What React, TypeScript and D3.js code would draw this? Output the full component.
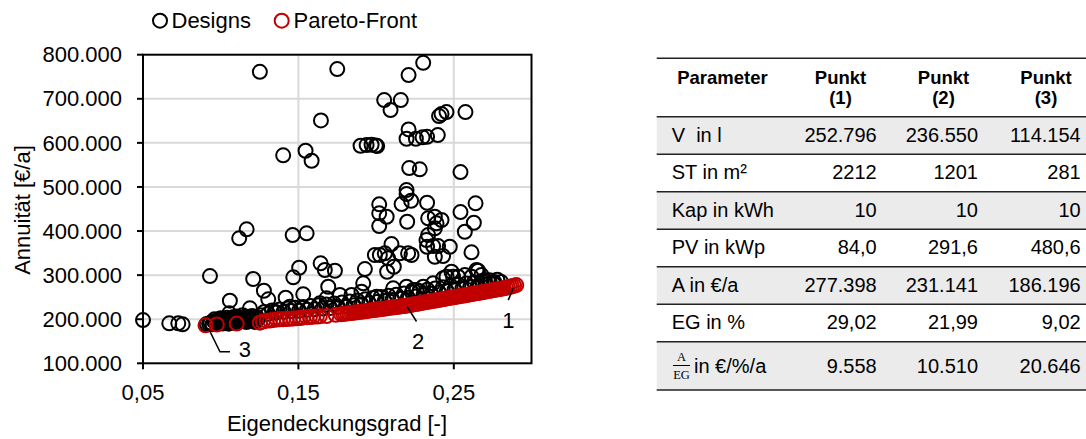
import React from "react";
import * as d3 from "d3";

// ---------- Data ----------
const xTicks = [0.05, 0.15, 0.25];
const yTicks = [100000, 200000, 300000, 400000, 500000, 600000, 700000, 800000];

// Designs (black circles): [Eigendeckungsgrad, Annuität]
const designsUpper: [number, number][] = [
  [0.1252, 761200], [0.1750, 767400], [0.2209, 753800], [0.2303, 781600],
  [0.2052, 697100], [0.2159, 697100], [0.2093, 674400], [0.1645, 651000],
  [0.2405, 660800], [0.2421, 665300], [0.2453, 669900], [0.2575, 669900],
  [0.2209, 630600], [0.2196, 609300], [0.2256, 609300], [0.2299, 612500],
  [0.2328, 613800], [0.2397, 617700], [0.1900, 593400], [0.1939, 595000],
  [0.1971, 595700], [0.1998, 594300], [0.2007, 592800], [0.1402, 571700],
  [0.1546, 582100], [0.1585, 559400], [0.2213, 542900], [0.2281, 539900],
  [0.2543, 533800], [0.2196, 493000], [0.2196, 483900], [0.2225, 468700],
  [0.2164, 461200], [0.2020, 460500], [0.2328, 464200], [0.2640, 462800],
  [0.2543, 443100], [0.2020, 440100], [0.2068, 432400], [0.2629, 418800],
  [0.2571, 398400], [0.2020, 411300], [0.2200, 421100], [0.2335, 428800],
  [0.2378, 432400], [0.2421, 425000], [0.2389, 417500], [0.2378, 406100],
  [0.2335, 390900], [0.2367, 366000], [0.2399, 366000], [0.2474, 364400],
  [0.2378, 341700], [0.2431, 343300], [0.2614, 351700], [0.2228, 345600],
  [0.1119, 383500], [0.1167, 403900], [0.1463, 390900], [0.1553, 394800],
];

const designsMiddle: [number, number][] = [
  [0.1505, 316800], [0.1643, 326800], [0.1670, 311600], [0.1735, 310000],
  [0.1928, 313800], [0.1992, 345600], [0.2024, 345600], [0.2056, 349400],
  [0.2099, 370500], [0.2077, 338100], [0.2114, 319000], [0.2071, 307700],
  [0.2153, 349400], [0.2206, 349400], [0.2324, 379600], [0.2328, 364400],
  [0.1692, 273700], [0.1531, 256500], [0.1917, 281400], [0.1906, 262400],
  [0.1767, 254900], [0.1842, 254900], [0.1638, 236100], [0.1681, 247400],
  [0.2003, 251000], [0.2110, 270100], [0.2196, 273700], [0.2260, 266200],
  [0.0500, 198000], [0.0669, 190700], [0.0727, 190700], [0.0755, 188400],
  [0.0931, 297900], [0.1209, 291200], [0.1278, 264600], [0.1306, 245100],
  [0.1059, 242000], [0.1188, 224700], [0.1055, 213400], [0.1418, 248800],
  [0.1467, 295000], [0.1445, 228300], [0.1349, 217000],
  [0.2453, 296400], [0.2485, 307700], [0.2528, 296400], [0.2571, 300200],
  [0.2614, 296400], [0.2656, 310000], [0.2678, 300200], [0.2367, 281400],
  [0.2303, 273700], [0.2238, 266200], [0.2646, 311600], [0.2495, 296400],
  [0.2731, 281400], [0.2431, 292700], [0.2700, 289000], [0.2760, 284500],
];

// Dense cluster of designs at the lower left (behind point 3)
const designsCluster: [number, number][] = [
  [0.0910, 189100], [0.0974, 189100], [0.0935, 192000], [0.0955, 195500],
  [0.0985, 191200], [0.1005, 196300], [0.1025, 193100], [0.1045, 199400],
  [0.1062, 192400], [0.1080, 197600], [0.1100, 194200], [0.1115, 201300],
  [0.1132, 195100], [0.1150, 199700], [0.1166, 193600], [0.1180, 204200],
  [0.1195, 197300], [0.1212, 201500], [0.1226, 196200], [0.1105, 206300],
  [0.1141, 209100], [0.1040, 203400], [0.0990, 199200], [0.1240, 200800],
  [0.0925, 190500], [0.0948, 188700], [0.0968, 193800], [0.1012, 190200],
  [0.1035, 196100], [0.1052, 189900], [0.1072, 201800], [0.1090, 191800],
  [0.1122, 198300], [0.1158, 205600], [0.1172, 197900], [0.1202, 207400],
  [0.1218, 193900], [0.1232, 205200], [0.1085, 205000], [0.1000, 202300],
  [0.0960, 199800],
];

// Designs lying just above the Pareto-Front
const designsBand: [number, number][] = [
  [0.1255, 209000], [0.1280, 216500], [0.1305, 212400], [0.1330, 219800],
  [0.1355, 215100], [0.1380, 222300], [0.1405, 216900], [0.1430, 224100],
  [0.1455, 218600], [0.1480, 226200], [0.1505, 219400], [0.1530, 227600],
  [0.1555, 221300], [0.1580, 229700], [0.1605, 222600], [0.1630, 231900],
  [0.1655, 224200], [0.1680, 233100], [0.1705, 225700], [0.1730, 235400],
  [0.1755, 227900], [0.1780, 237800], [0.1805, 229600], [0.1830, 240100],
  [0.1855, 231800], [0.1880, 242700], [0.1905, 234100], [0.1930, 245200],
  [0.1955, 236300], [0.1980, 247900], [0.2005, 238900], [0.2030, 250400],
  [0.2055, 241100], [0.2080, 253200], [0.2105, 243800], [0.2130, 255600],
  [0.2155, 246300], [0.2180, 258100], [0.2205, 248700], [0.2230, 260900],
  [0.2255, 251800], [0.2280, 263700], [0.2305, 254900], [0.2330, 266800],
  [0.2355, 257600], [0.2380, 269900], [0.2405, 260700], [0.2430, 272400],
  [0.2455, 263800], [0.2480, 275600], [0.2505, 266900], [0.2530, 278300],
  [0.2555, 269800], [0.2580, 281200], [0.2605, 272600], [0.2630, 283900],
  [0.2655, 275700], [0.2680, 286400], [0.2705, 278300], [0.2730, 288200],
  [0.2755, 281100], [0.2780, 289600], [0.2805, 284300],
];

// Pareto-Front (red circles)
const paretoFront: [number, number][] = [
  [0.0902, 186196], [0.0975, 188000], [0.1103, 190000], [0.1252, 192100],
  [0.1272, 194800], [0.1296, 196600], [0.1317, 197100], [0.1338, 198200],
  [0.1362, 199300], [0.1381, 199800], [0.1400, 199900], [0.1424, 200500],
  [0.1445, 201100], [0.1467, 201600], [0.1490, 202000], [0.1510, 202700],
  [0.1529, 203900], [0.1553, 204300], [0.1574, 205000], [0.1593, 205400],
  [0.1619, 206100], [0.1638, 206600], [0.1681, 207300], [0.1740, 210100],
  [0.1775, 211500], [0.1788, 212000], [0.1801, 212600], [0.1814, 213100],
  [0.1827, 213700], [0.1840, 214200], [0.1853, 214800], [0.1866, 215300],
  [0.1879, 215900], [0.1892, 216500], [0.1905, 217100], [0.1918, 217700],
  [0.1931, 218300], [0.1944, 218900], [0.1957, 219500], [0.1970, 220100],
  [0.1983, 220700], [0.1996, 221300], [0.2009, 221900], [0.2022, 222600],
  [0.2035, 223200], [0.2048, 223900], [0.2061, 224500], [0.2074, 225100],
  [0.2087, 225800], [0.2100, 226400], [0.2113, 227000], [0.2126, 227700],
  [0.2139, 228300], [0.2152, 228900], [0.2165, 229600], [0.2178, 230200],
  [0.2191, 230800], [0.2199, 231141], [0.2212, 231900], [0.2225, 232700],
  [0.2238, 233500], [0.2251, 234300], [0.2264, 235100], [0.2277, 235900],
  [0.2290, 236800], [0.2303, 237700], [0.2316, 238500], [0.2329, 239300],
  [0.2342, 240100], [0.2355, 240900], [0.2368, 241700], [0.2381, 242500],
  [0.2394, 243300], [0.2407, 244200], [0.2420, 245000], [0.2433, 245800],
  [0.2446, 246600], [0.2459, 247400], [0.2472, 248200], [0.2485, 249000],
  [0.2498, 249800], [0.2511, 250600], [0.2524, 251400], [0.2537, 252200],
  [0.2550, 253000], [0.2563, 253800], [0.2576, 254600], [0.2589, 255400],
  [0.2602, 256200], [0.2615, 257000], [0.2628, 257900], [0.2641, 258700],
  [0.2654, 259500], [0.2667, 260300], [0.2680, 261100], [0.2693, 262000],
  [0.2706, 262800], [0.2719, 263600], [0.2732, 264500], [0.2745, 265300],
  [0.2758, 266100], [0.2771, 267000], [0.2784, 267800], [0.2797, 268600],
  [0.2810, 269500], [0.2823, 270500], [0.2836, 271500], [0.2849, 272500],
  [0.2862, 273600], [0.2875, 274700], [0.2888, 276000], [0.2902, 277398],
];

const tableHeader = ["Parameter", "Punkt", "Punkt", "Punkt"];
const tableHeader2 = ["", "(1)", "(2)", "(3)"];
const rowLabels = ["V  in l", "ST in m²", "Kap in kWh", "PV in kWp", "A in €/a", "EG in %"];
const col1 = ["252.796", "2212", "10", "84,0", "277.398", "29,02", "9.558"];
const col2 = ["236.550", "1201", "10", "291,6", "231.141", "21,99", "10.510"];
const col3 = ["114.154", "281", "10", "480,6", "186.196", "9,02", "20.646"];

// ---------- Layout ----------
const W = 1086;
const H = 439;
const plot = { left: 143, right: 531.5, top: 54.7, bottom: 363.3 };
const FONT = "'Liberation Sans', Arial, sans-serif";
const RED = "#c00000";
const R = 7;
const SW = 2;

export default function App() {
  const x = d3.scaleLinear().domain([0.05, 0.3]).range([plot.left, plot.right]);
  const y = d3.scaleLinear().domain([100000, 800000]).range([plot.bottom, plot.top]);
  const fmtY = (v: number) => d3.format(",")(v).replace(/,/g, ".");
  const fmtX = (v: number) => d3.format(".2f")(v).replace(".", ",");

  const designs = [...designsUpper, ...designsMiddle, ...designsCluster, ...designsBand];
  const p1 = paretoFront[paretoFront.length - 1];
  const p2 = paretoFront.find((d) => d[1] === 231141)!;
  const p3 = paretoFront[0];
  const P1 = [x(p1[0]), y(p1[1])];
  const P2 = [x(p2[0]), y(p2[1])];
  const P3 = [x(p3[0]), y(p3[1])];

  // table geometry
  const tLeft = 656.7;
  const tRight = 1086;
  const rowTops = [116.7, 154.3, 191.7, 229.3, 266.7, 304.3, 341.7];
  const rowBottom = 390;
  const colRight = [876.7, 978, 1080.7];
  const colCenter = [722.5, 840.5, 943.5, 1046];

  return (
    <svg width={W} height={H} style={{ position: "absolute", left: 0, top: 0, background: "#fff" }}>
      <rect x={0} y={0} width={W} height={H} fill="#fff" />
      {/* grid */}
      {yTicks.filter((t) => t > 100000 && t < 800000).map((t) => (
        <line key={"gy" + t} x1={plot.left} x2={plot.right} y1={y(t)} y2={y(t)} stroke="#d9d9d9" strokeWidth={2} />
      ))}
      {xTicks.filter((t) => t > 0.05).map((t) => (
        <line key={"gx" + t} x1={x(t)} x2={x(t)} y1={plot.top} y2={plot.bottom} stroke="#d9d9d9" strokeWidth={2} />
      ))}
      {/* designs */}
      <g fill="none" stroke="#000" strokeWidth={SW}>
        {designs.map((d, i) => (
          <circle key={"d" + i} cx={x(d[0])} cy={y(d[1])} r={R} />
        ))}
      </g>
      {/* pareto */}
      <g fill="none" stroke={RED} strokeWidth={SW}>
        {paretoFront.map((d, i) => (
          <circle key={"p" + i} cx={x(d[0])} cy={y(d[1])} r={R} />
        ))}
      </g>
      {/* frame */}
      <rect x={plot.left} y={plot.top} width={plot.right - plot.left} height={plot.bottom - plot.top} fill="none" stroke="#000" strokeWidth={2} />
      {/* y ticks */}
      {yTicks.map((t) => (
        <g key={"ty" + t}>
          <line x1={plot.left - 6} x2={plot.left} y1={y(t)} y2={y(t)} stroke="#000" strokeWidth={2} />
          <text x={122} y={y(t)} dy="0.35em" textAnchor="end" fontFamily={FONT} fontSize={22} fill="#000">
            {fmtY(t)}
          </text>
        </g>
      ))}
      {xTicks.map((t) => (
        <g key={"tx" + t}>
          <line x1={x(t)} x2={x(t)} y1={plot.bottom} y2={plot.bottom + 6} stroke="#000" strokeWidth={2} />
          <text x={x(t)} y={400} textAnchor="middle" fontFamily={FONT} fontSize={22} fill="#000">
            {fmtX(t)}
          </text>
        </g>
      ))}
      <text x={337} y={431} textAnchor="middle" fontFamily={FONT} fontSize={22} fill="#000">
        Eigendeckungsgrad [-]
      </text>
      <text transform="translate(30,210) rotate(-90)" textAnchor="middle" fontFamily={FONT} fontSize={22} fill="#000">
        Annuität [€/a]
      </text>
      {/* legend */}
      <circle cx={160} cy={20.7} r={R} fill="none" stroke="#000" strokeWidth={SW} />
      <text x={171.5} y={28} fontFamily={FONT} fontSize={22} fill="#000">Designs</text>
      <circle cx={281.7} cy={20.7} r={R} fill="none" stroke={RED} strokeWidth={SW} />
      <text x={293.5} y={28} fontFamily={FONT} fontSize={22} fill="#000">Pareto-Front</text>
      {/* annotations */}
      <g stroke="#000" strokeWidth={1.5} fill="none">
        <line x1={P1[0] - 3} y1={P1[1] + 3} x2={P1[0] - 8} y2={P1[1] + 15} />
        <line x1={P2[0]} y1={P2[1] + 1} x2={P2[0] + 9.5} y2={P2[1] + 16} />
        <polyline points={`${P3[0] + 3},${P3[1] + 3} ${P3[0] + 14.5},${P3[1] + 26.5} ${P3[0] + 24.5},${P3[1] + 26.5}`} />
      </g>
      <g fontFamily={FONT} fontSize={22} fill="#000" textAnchor="middle">
        <text x={P1[0] - 8} y={P1[1] + 43}>1</text>
        <text x={P2[0] + 11} y={P2[1] + 44}>2</text>
        <text x={P3[0] + 39.5} y={P3[1] + 32}>3</text>
      </g>

      {/* table */}
      {[0, 2, 4, 6].map((i) => (
        <rect key={"bg" + i} x={tLeft} y={rowTops[i]} width={tRight - tLeft}
          height={(i + 1 < rowTops.length ? rowTops[i + 1] : rowBottom) - rowTops[i]} fill="#ebebeb" />
      ))}
      {[58.3, ...rowTops, rowBottom].map((yy, i) => (
        <line key={"hl" + i} x1={tLeft} x2={tRight} y1={yy} y2={yy} stroke="#222" strokeWidth={1.4} />
      ))}
      <g fontFamily={FONT} fontSize={18.5} fontWeight="bold" fill="#000" textAnchor="middle">
        {tableHeader.map((h, i) => (
          <text key={"h" + i} x={colCenter[i]} y={84}>{h}</text>
        ))}
        {tableHeader2.map((h, i) => (
          <text key={"h2" + i} x={colCenter[i]} y={104}>{h}</text>
        ))}
      </g>
      <g fontFamily={FONT} fontSize={20} fill="#000">
        {rowLabels.map((l, i) => (
          <text key={"rl" + i} x={671.7} y={rowTops[i] + 25} style={{ whiteSpace: "pre" }}>{l}</text>
        ))}
        {[col1, col2, col3].map((col, c) =>
          col.map((v, i) => (
            <text key={"c" + c + i} x={colRight[c]} y={i < 6 ? rowTops[i] + 25 : 373} textAnchor="end">{v}</text>
          ))
        )}
        <text x={694} y={373}>in €/%/a</text>
      </g>
      {/* fraction A / EG */}
      <g fontFamily="'Liberation Serif', 'Times New Roman', serif" fontSize={12.5} fill="#000" textAnchor="middle">
        <text x={681.5} y={361}>A</text>
        <line x1={673} x2={690} y1={365.5} y2={365.5} stroke="#000" strokeWidth={1} />
        <text x={681.5} y={379}>EG</text>
      </g>
    </svg>
  );
}
